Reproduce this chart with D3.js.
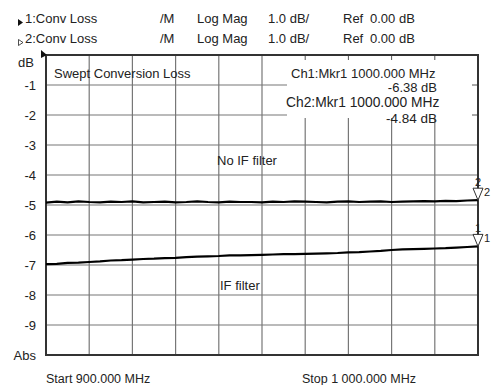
<!DOCTYPE html>
<html>
<head>
<meta charset="utf-8">
<script src="https://cdn.jsdelivr.net/npm/d3@7"></script>
<style>
  body { margin: 0; background: #fff; }
  svg text { font-family: "Liberation Sans", Arial, sans-serif; fill: #222; }
</style>
</head>
<body>
<div id="chart"></div>
<script>
//------------------------1. DATA------------------------//
// frequency axis (MHz), one point every 2.5 MHz
const freqs = d3.range(41).map(function(i) { return 900 + i * 2.5; });

// Ch1 trace: with IF filter (dB)
const ifFilter = [-6.97, -6.96, -6.93, -6.92, -6.90, -6.88, -6.85, -6.84, -6.82, -6.80,
    -6.79, -6.77, -6.76, -6.74, -6.72, -6.71, -6.70, -6.68, -6.68, -6.67,
    -6.66, -6.65, -6.64, -6.64, -6.63, -6.62, -6.61, -6.60, -6.58, -6.57,
    -6.55, -6.53, -6.50, -6.48, -6.47, -6.46, -6.45, -6.44, -6.42, -6.40, -6.38];

// Ch2 trace: no IF filter (dB)
const noIfFilter = [-4.92, -4.89, -4.91, -4.88, -4.90, -4.91, -4.89, -4.90, -4.88, -4.91,
    -4.90, -4.89, -4.91, -4.90, -4.88, -4.90, -4.91, -4.89, -4.90, -4.90,
    -4.91, -4.89, -4.90, -4.88, -4.89, -4.90, -4.91, -4.89, -4.88, -4.90,
    -4.89, -4.88, -4.90, -4.89, -4.88, -4.87, -4.88, -4.86, -4.87, -4.85, -4.84];

const yTicks = [-1, -2, -3, -4, -5, -6, -7, -8, -9];
const xTicks = [910, 920, 930, 940, 950, 960, 970, 980, 990];
const headerRow1 = ["1:Conv Loss", "/M", "Log Mag", "1.0 dB/", "Ref", "0.00 dB"];
const headerRow2 = ["2:Conv Loss", "/M", "Log Mag", "1.0 dB/", "Ref", "0.00 dB"];
const markerLines = ["Ch1:Mkr1 1000.000 MHz", "-6.38 dB", "Ch2:Mkr1 1000.000 MHz", "-4.84 dB"];

//------------------------2. SETUP------------------------//
const width = 491;
const height = 385;
const plot = {left: 46, right: 478, top: 55, bottom: 355};

const svg = d3.select("#chart").append("svg")
    .attr("width", width)
    .attr("height", height);

const xScale = d3.scaleLinear().domain([900, 1000]).range([plot.left, plot.right]);
const yScale = d3.scaleLinear().domain([-10, 0]).range([plot.bottom, plot.top]);

//------------------------3. HEADER------------------------//
const headerX = [25, 160, 197, 268, 343, 370];
[headerRow1, headerRow2].forEach(function(row, r) {
    svg.selectAll(null)
        .data(row)
        .enter()
        .append("text")
        .attr("x", function(d, i) { return headerX[i]; })
        .attr("y", 23 + r * 20)
        .style("font-size", "13px")
        .text(function(d) { return d; });
});
// channel symbols
svg.append("path").attr("d", "M18,19 L23,22.5 L18,26 Z").attr("fill", "#111");
svg.append("path").attr("d", "M18.5,39.5 L23,42.5 L18.5,45.5 Z")
    .attr("fill", "none").attr("stroke", "#222").attr("stroke-width", 0.8);

//------------------------4. GRID------------------------//
svg.append("g").selectAll("line")
    .data(xTicks).enter().append("line")
    .attr("x1", function(d) { return xScale(d); })
    .attr("x2", function(d) { return xScale(d); })
    .attr("y1", plot.top).attr("y2", plot.bottom)
    .attr("stroke", "#777").attr("stroke-width", 1.2);

svg.append("g").selectAll("line")
    .data(yTicks).enter().append("line")
    .attr("x1", plot.left).attr("x2", plot.right)
    .attr("y1", function(d) { return yScale(d); })
    .attr("y2", function(d) { return yScale(d); })
    .attr("stroke", "#777").attr("stroke-width", 1.2);

// blank marker readout area, top right
const box = {x: 287, y: plot.top, w: plot.right - 287, h: yScale(-2) + 2 - plot.top};
svg.append("rect")
    .attr("x", box.x).attr("y", box.y + 1)
    .attr("width", box.w).attr("height", box.h)
    .attr("fill", "#fff");
// small ticks at the edge of the blank area
svg.append("g").selectAll("line")
    .data(xTicks.filter(function(d) { return xScale(d) > box.x; }))
    .enter().append("line")
    .attr("x1", function(d) { return xScale(d); })
    .attr("x2", function(d) { return xScale(d); })
    .attr("y1", plot.top).attr("y2", plot.top + 5)
    .attr("stroke", "#555");
svg.append("g").selectAll("line")
    .data([-1, -2]).enter().append("line")
    .attr("x1", plot.right - 6).attr("x2", plot.right)
    .attr("y1", function(d) { return yScale(d); })
    .attr("y2", function(d) { return yScale(d); })
    .attr("stroke", "#555");

// frame
svg.append("rect")
    .attr("x", plot.left).attr("y", plot.top)
    .attr("width", plot.right - plot.left)
    .attr("height", plot.bottom - plot.top)
    .attr("fill", "none")
    .attr("stroke", "#333")
    .attr("stroke-width", 2);

// reference position marker
svg.append("path")
    .attr("d", "M41,50 L41,58 L47,55 Z")
    .attr("fill", "#111");

//------------------------5. AXIS LABELS------------------------//
svg.append("g").selectAll("text")
    .data(yTicks).enter().append("text")
    .attr("x", 36)
    .attr("y", function(d) { return yScale(d) + 5; })
    .attr("text-anchor", "end")
    .style("font-size", "13px")
    .text(function(d) { return d; });

svg.append("text").attr("x", 34).attr("y", 67)
    .attr("text-anchor", "end").style("font-size", "13px").text("dB");
svg.append("text").attr("x", 36).attr("y", 360)
    .attr("text-anchor", "end").style("font-size", "13px").text("Abs");

svg.append("text").attr("x", 46).attr("y", 383)
    .style("font-size", "12.5px").text("Start 900.000 MHz");
svg.append("text").attr("x", 302).attr("y", 383)
    .style("font-size", "12.5px").text("Stop 1 000.000 MHz");

//------------------------6. ANNOTATIONS------------------------//
svg.append("text").attr("x", 54).attr("y", 78)
    .style("font-size", "13px").text("Swept Conversion Loss");

svg.append("text").attr("x", 291).attr("y", 78)
    .style("font-size", "13px").text(markerLines[0]);
svg.append("text").attr("x", 437).attr("y", 92).attr("text-anchor", "end")
    .style("font-size", "13px").text(markerLines[1]);
svg.append("text").attr("x", 286).attr("y", 107)
    .style("font-size", "13.8px").text(markerLines[2]);
svg.append("text").attr("x", 437).attr("y", 123).attr("text-anchor", "end")
    .style("font-size", "13.5px").text(markerLines[3]);

svg.append("text").attr("x", 217).attr("y", 165)
    .style("font-size", "13px").text("No IF filter");
svg.append("text").attr("x", 220).attr("y", 290)
    .style("font-size", "13px").text("IF filter");

//------------------------7. TRACES------------------------//
const line = d3.line()
    .x(function(d) { return xScale(d.f); })
    .y(function(d) { return yScale(d.v); });

const traces = [
    {id: "2", values: freqs.map(function(f, i) { return {f: f, v: noIfFilter[i]}; })},
    {id: "1", values: freqs.map(function(f, i) { return {f: f, v: ifFilter[i]}; })}
];

svg.selectAll("path.trace")
    .data(traces).enter().append("path")
    .attr("class", "trace")
    .attr("d", function(d) { return line(d.values); })
    .attr("fill", "none")
    .attr("stroke", "#000")
    .attr("stroke-width", 2.2);

// markers at the stop frequency
const markers = svg.selectAll("g.marker")
    .data(traces).enter().append("g")
    .attr("class", "marker")
    .attr("transform", function(d) {
        const last = d.values[d.values.length - 1];
        return "translate(" + xScale(last.f) + "," + yScale(last.v) + ")";
    });

markers.append("path")
    .attr("d", "M-5,-12 L5,-12 L0,0 Z")
    .attr("fill", "#fff")
    .attr("stroke", "#333")
    .attr("stroke-width", 1);
markers.append("text")
    .attr("y", -14)
    .attr("text-anchor", "middle")
    .style("font-size", "11px")
    .text(function(d) { return d.id; });
markers.append("text")
    .attr("x", 6).attr("y", -4)
    .style("font-size", "11px")
    .text(function(d) { return d.id; });
</script>
</body>
</html>
